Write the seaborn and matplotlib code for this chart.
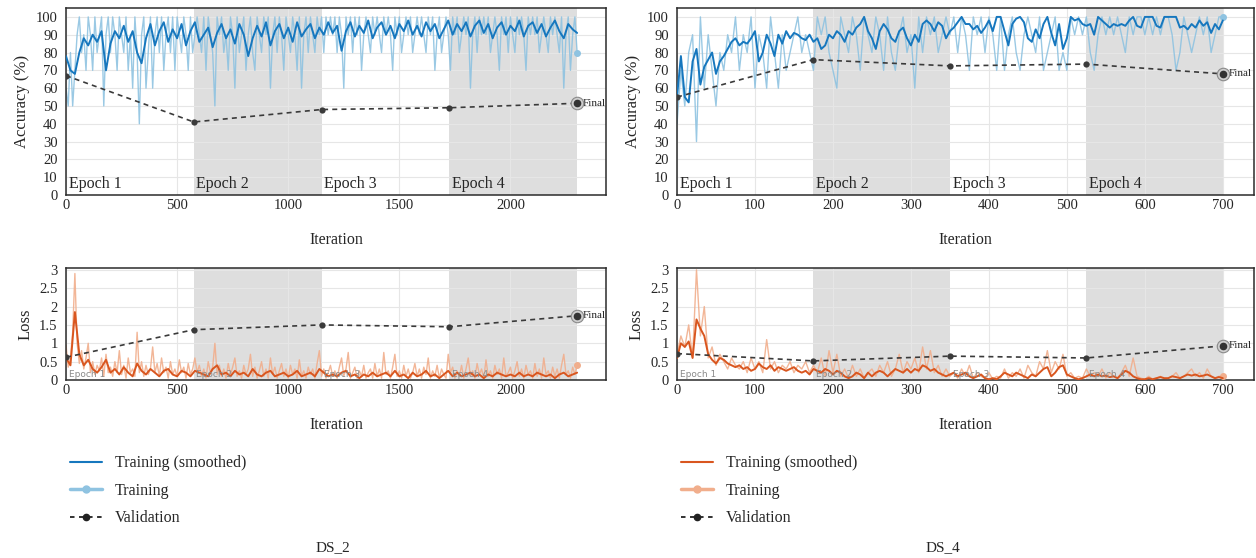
import numpy as np
import pandas as pd
import seaborn as sns
import matplotlib.pyplot as plt
from matplotlib.lines import Line2D
from matplotlib.ticker import FuncFormatter

# ---------------- data ----------------
# DS_2 : 2300 iterations, 4 epochs
ds2_iters = 2300
ds2_acc_raw = [  # every 10 iterations
    60, 50, 80, 50, 70, 90, 100, 80, 90, 70,
    100, 90, 70, 100, 80, 90, 100, 50, 90, 100,
    80, 100, 90, 70, 100, 90, 80, 100, 70, 90,
    60, 100, 80, 40, 90, 100, 60, 80, 100, 60,
    90, 100, 80, 100, 70, 90, 100, 80, 100, 70,
    100, 90, 80, 100, 90, 70, 100, 80, 90, 100,
    90, 80, 100, 70, 100, 90, 80, 50, 100, 90,
    100, 80, 90, 70, 100, 90, 60, 100, 80, 90,
    100, 70, 90, 100, 80, 70, 100, 90, 80, 100,
    90, 100, 60, 90, 100, 80, 100, 90, 70, 100,
    90, 80, 100, 90, 70, 100, 60, 90, 100, 80,
    100, 90, 80, 100, 90, 100, 80, 100, 90, 100,
    90, 100, 80, 100, 90, 60, 100, 90, 100, 80,
    100, 90, 100, 70, 90, 100, 90, 80, 100, 90,
    100, 90, 80, 100, 90, 100, 90, 70, 100, 90,
    100, 80, 90, 100, 90, 100, 80, 90, 100, 90,
    100, 90, 80, 100, 90, 100, 70, 90, 100, 80,
    90, 100, 90, 70, 100, 90, 100, 80, 90, 100,
    90, 100, 60, 90, 100, 80, 100, 90, 100, 90,
    100, 80, 90, 100, 90, 70, 100, 90, 100, 80,
    100, 90, 80, 100, 90, 100, 90, 70, 100, 90,
    100, 90, 100, 80, 90, 100, 90, 80, 100, 90,
    100, 90, 80, 100, 60, 90, 100, 70, 90, 100,
    80,
]
ds2_acc_smooth = [  # every 20 iterations
    78, 70, 68, 80, 88, 84, 90, 86, 92, 70,
    85, 92, 88, 95, 86, 92, 80, 74, 88, 96,
    84, 92, 97, 86, 93, 88, 96, 84, 92, 97,
    86, 90, 94, 83, 91, 96, 88, 93, 85, 96,
    90, 78, 88, 95, 89, 97, 84, 92, 96, 88,
    94, 86, 97, 89, 93, 96, 88, 94, 90, 97,
    91, 95, 81, 92, 97, 89, 95, 91, 98, 88,
    94, 97, 90, 95, 88, 96, 92, 98, 90, 95,
    89, 97, 92, 96, 88, 93, 98, 90, 96, 92,
    97, 89, 95, 98, 91, 96, 88, 94, 97, 90,
    95, 92, 98, 89, 95, 97, 91, 96, 89, 94,
    98, 92, 88, 96, 93, 91,
]
ds2_loss_raw = [  # every 10 iterations
    0.95, 0.35, 0.6, 1.3, 2.9, 1.0, 0.45, 0.8, 0.3, 0.6,
    1.0, 0.2, 0.5, 0.15, 0.4, 0.25, 0.6, 0.1, 0.7, 0.2,
    0.35, 0.1, 0.5, 0.2, 0.8, 0.15, 0.4, 0.05, 0.6, 0.2,
    0.3, 0.1, 1.3, 0.2, 0.5, 0.1, 0.4, 0.15, 0.3, 0.9,
    0.2, 0.45, 0.1, 0.6, 0.2, 0.35, 0.05, 0.5, 0.15, 0.3,
    0.1, 0.55, 0.2, 0.35, 0.05, 0.45, 0.15, 0.3, 0.6, 0.2,
    0.4, 0.1, 0.3, 0.05, 0.5, 0.2, 0.35, 1.0, 0.15, 0.4,
    0.1, 0.3, 0.05, 0.45, 0.15, 0.35, 0.6, 0.1, 0.25, 0.05,
    0.4, 0.15, 0.3, 0.7, 0.1, 0.35, 0.05, 0.25, 0.5, 0.1,
    0.3, 0.05, 0.6, 0.15, 0.35, 0.05, 0.25, 0.45, 0.1, 0.3,
    0.05, 0.4, 0.15, 0.3, 0.05, 0.55, 0.1, 0.25, 0.05, 0.35,
    0.15, 0.3, 0.05, 0.45, 0.8, 0.1, 0.3, 0.05, 0.2, 0.4,
    0.1, 0.25, 0.05, 0.35, 0.6, 0.1, 0.3, 0.75, 0.05, 0.2,
    0.35, 0.05, 0.25, 0.1, 0.4, 0.05, 0.2, 0.3, 0.05, 0.45,
    0.1, 0.3, 0.05, 0.75, 0.15, 0.25, 0.05, 0.35, 0.7, 0.1,
    0.25, 0.05, 0.4, 0.1, 0.3, 0.05, 0.2, 0.45, 0.1, 0.3,
    0.05, 0.35, 0.15, 0.6, 0.05, 0.25, 0.1, 0.4, 0.05, 0.3,
    0.15, 0.05, 0.7, 0.2, 0.35, 0.05, 0.25, 0.1, 0.4, 0.05,
    0.3, 0.6, 0.1, 0.25, 0.05, 0.45, 0.15, 0.3, 0.05, 0.55,
    0.1, 0.25, 0.05, 0.4, 0.15, 0.3, 0.05, 0.6, 0.1, 0.2,
    0.35, 0.05, 0.25, 0.5, 0.1, 0.3, 0.05, 0.4, 0.15, 0.25,
    0.05, 0.45, 0.1, 0.3, 0.05, 0.6, 0.15, 0.25, 0.05, 0.35,
    0.1, 0.3, 0.05, 0.4, 0.7, 0.15, 0.25, 0.05, 0.35, 0.15,
    0.4,
]
ds2_loss_smooth = [  # every 20 iterations
    0.6, 0.4, 1.85, 0.7, 0.4, 0.55, 0.3, 0.2, 0.35, 0.55,
    0.2, 0.3, 0.15, 0.35, 0.2, 0.1, 0.45, 0.25, 0.15, 0.3,
    0.2, 0.1, 0.25, 0.3, 0.15, 0.1, 0.25, 0.2, 0.1, 0.25,
    0.2, 0.15, 0.1, 0.3, 0.4, 0.15, 0.2, 0.1, 0.25, 0.15,
    0.2, 0.1, 0.3, 0.15, 0.1, 0.2, 0.25, 0.1, 0.15, 0.2,
    0.1, 0.15, 0.25, 0.1, 0.15, 0.2, 0.1, 0.3, 0.2, 0.1,
    0.15, 0.1, 0.2, 0.25, 0.1, 0.15, 0.05, 0.15, 0.1, 0.2,
    0.1, 0.15, 0.2, 0.1, 0.25, 0.1, 0.15, 0.05, 0.2, 0.1,
    0.15, 0.25, 0.1, 0.15, 0.05, 0.15, 0.25, 0.1, 0.2, 0.1,
    0.15, 0.2, 0.1, 0.15, 0.05, 0.15, 0.1, 0.2, 0.15, 0.1,
    0.15, 0.1, 0.2, 0.1, 0.15, 0.1, 0.2, 0.15, 0.1, 0.15,
    0.05, 0.15, 0.2, 0.1, 0.15, 0.2,
]
ds2_val_iter = [0, 575, 1150, 1725, 2300]
ds2_val_acc = [67, 41, 48, 49, 51.5]
ds2_val_loss = [0.62, 1.37, 1.5, 1.45, 1.75]

# DS_4 : 700 iterations, 4 epochs
ds4_iters = 700
ds4_acc_raw = [  # every 5 iterations
    40, 70, 50, 80, 90, 30, 100, 60, 90, 70,
    50, 80, 70, 90, 80, 100, 70, 90, 80, 100,
    60, 90, 80, 60, 100, 80, 60, 90, 70, 80,
    90, 100, 80, 90, 80, 70, 100, 90, 100, 80,
    70, 60, 100, 90, 80, 100, 90, 70, 100, 90,
    80, 100, 90, 70, 100, 80, 70, 90, 100, 80,
    90, 60, 100, 80, 100, 90, 100, 80, 90, 100,
    90, 100, 80, 100, 90, 70, 100, 90, 100, 80,
    100, 90, 70, 100, 70, 90, 100, 80, 70, 90,
    100, 90, 80, 100, 70, 80, 90, 100, 70, 80,
    70, 100, 90, 100, 90, 100, 80, 70, 90, 100,
    90, 100, 90, 100, 90, 80, 100, 90, 100, 100,
    90, 100, 90, 100, 90, 100, 100, 90, 70, 80,
    100, 90, 80, 90, 100, 90, 100, 80, 90, 100,
    100,
]
ds4_acc_smooth = [  # every 5 iterations
    55, 78, 55, 52, 75, 82, 62, 72, 76, 80,
    68, 75, 78, 82, 86, 88, 84, 86, 85, 88,
    92, 75, 80, 90, 85, 78, 90, 85, 92, 88,
    91, 90, 88, 87, 90, 86, 88, 82, 84, 90,
    88, 92, 90, 86, 92, 90, 94, 96, 100, 92,
    88, 82, 92, 96, 93, 88, 86, 92, 94, 88,
    84, 90, 86, 96, 98, 96, 92, 97, 95, 88,
    92, 94, 97, 100, 96, 96, 93, 95, 91, 94,
    98, 92, 100, 100, 92, 84, 96, 99, 100, 97,
    88, 86, 93, 88, 96, 100, 91, 84, 96, 82,
    88, 100, 98, 99, 96, 95, 96, 90, 100, 98,
    96, 94, 96, 95, 96, 95, 98, 100, 95, 94,
    100, 100, 100, 95, 94, 100, 100, 100, 100, 94,
    95, 93, 96, 94, 98, 95, 97, 91, 96, 93,
    98,
]
ds4_loss_raw = [  # every 5 iterations
    0.7, 1.2, 0.9, 1.5, 0.6, 3.0, 1.2, 2.0, 0.6, 0.9,
    0.4, 0.7, 0.5, 0.3, 0.6, 0.4, 0.3, 0.5, 0.2, 0.6,
    0.3, 0.5, 0.2, 1.1, 0.3, 0.5, 0.2, 0.4, 0.3, 0.5,
    0.2, 0.4, 0.3, 0.5, 0.2, 0.4, 0.2, 0.6, 0.1, 0.8,
    0.2, 0.7, 0.1, 0.3, 0.05, 0.4, 0.1, 0.3, 0.05, 0.2,
    0.3, 0.1, 0.4, 0.2, 0.5, 0.1, 0.3, 0.7, 0.2, 0.5,
    0.3, 0.6, 0.2, 0.9, 0.3, 0.8, 0.2, 0.4, 0.1, 0.3,
    0.1, 0.2, 0.05, 0.3, 0.1, 0.4, 0.05, 0.2, 0.1, 0.05,
    0.2, 0.02, 0.1, 0.05, 0.3, 0.05, 0.2, 0.1, 0.3, 0.05,
    0.4, 0.2, 0.1, 0.5, 0.3, 0.8, 0.2, 0.5, 0.3, 0.7,
    0.1, 0.2, 0.05, 0.1, 0.05, 0.3, 0.1, 0.2, 0.1, 0.3,
    0.05, 0.2, 0.1, 0.05, 0.2, 0.4, 0.1, 0.6, 0.1, 0.05,
    0.02, 0.1, 0.02, 0.05, 0.1, 0.02, 0.05, 0.1, 0.2, 0.05,
    0.1, 0.2, 0.3, 0.1, 0.2, 0.05, 0.3, 0.1, 0.05, 0.1,
    0.1,
]
ds4_loss_smooth = [  # every 5 iterations
    0.6, 1.0, 0.9, 1.05, 0.6, 1.65, 1.4, 1.2, 0.7, 0.55,
    0.45, 0.6, 0.55, 0.45, 0.4, 0.35, 0.4, 0.3, 0.35, 0.25,
    0.3, 0.45, 0.35, 0.3, 0.4, 0.25, 0.35, 0.3, 0.25, 0.3,
    0.35, 0.25, 0.2, 0.25, 0.15, 0.3, 0.25, 0.2, 0.3, 0.25,
    0.15, 0.25, 0.2, 0.1, 0.05, 0.1, 0.2, 0.15, 0.05, 0.2,
    0.1, 0.2, 0.25, 0.2, 0.1, 0.2, 0.3, 0.25, 0.2, 0.3,
    0.2, 0.3, 0.25, 0.4, 0.35, 0.25, 0.3, 0.2, 0.15, 0.1,
    0.15, 0.2, 0.1, 0.15, 0.2, 0.1, 0.05, 0.1, 0.15, 0.05,
    0.02, 0.05, 0.02, 0.1, 0.2, 0.15, 0.1, 0.2, 0.15, 0.1,
    0.05, 0.15, 0.1, 0.2, 0.3, 0.35, 0.1, 0.2, 0.35, 0.4,
    0.15, 0.1, 0.05, 0.02, 0.05, 0.1, 0.15, 0.1, 0.15, 0.1,
    0.12, 0.08, 0.1, 0.05, 0.15, 0.25, 0.2, 0.1, 0.05, 0.02,
    0.02, 0.05, 0.02, 0.05, 0.08, 0.05, 0.05, 0.1, 0.08, 0.05,
    0.1, 0.15, 0.12, 0.15, 0.1, 0.12, 0.15, 0.1, 0.05, 0.08,
    0.05,
]
ds4_val_iter = [0, 175, 350, 525, 700]
ds4_val_acc = [55, 76, 72.5, 73.5, 68]
ds4_val_loss = [0.72, 0.52, 0.65, 0.6, 0.93]

epoch_names = ["Epoch 1", "Epoch 2", "Epoch 3", "Epoch 4"]

# ---------------- style ----------------
sns.set_style("white")
plt.rcParams["font.family"] = ["Liberation Serif", "DejaVu Serif"]

blue, blue_light = "#1677be", "#8fc3e1"
orange, orange_light = "#d9561f", "#f1ae8c"
shade = "#dedede"


def curve(values, n_iter):
    return pd.DataFrame({"it": np.linspace(0, n_iter, len(values)), "v": values})


def panel(ax, raw, smooth, val_it, val_y, n_iter, xmax, ymax, dark, light, kind):
    # shaded even epochs
    ax.axvspan(val_it[1], val_it[2], color=shade, lw=0, zorder=0)
    ax.axvspan(val_it[3], val_it[4], color=shade, lw=0, zorder=0)

    r = curve(raw, n_iter)
    s = curve(smooth, n_iter)
    sns.lineplot(data=r, x="it", y="v", ax=ax, color=light, lw=1.0, alpha=0.9,
                 estimator=None, zorder=2)
    ax.plot(r["it"].iloc[-1], r["v"].iloc[-1], "o", color=light, ms=4, zorder=3)
    sns.lineplot(data=s, x="it", y="v", ax=ax, color=dark, lw=1.4,
                 estimator=None, zorder=3)

    v = pd.DataFrame({"it": val_it, "v": val_y})
    sns.lineplot(data=v, x="it", y="v", ax=ax, color="#3a3a3a", lw=1.2,
                 linestyle=(0, (3, 2.5)), marker="o", markersize=4.5,
                 markeredgewidth=0, estimator=None, zorder=4)
    ax.plot(val_it[-1], val_y[-1], "o", ms=9, mfc="#cfcfcf", mec="#8a8a8a",
            mew=0.8, zorder=5)
    ax.plot(val_it[-1], val_y[-1], "o", ms=4.5, color="#333333", zorder=6)
    ax.annotate("Final", (val_it[-1], val_y[-1]), xytext=(4, 0),
                textcoords="offset points", va="center", fontsize=8)

    for k, name in enumerate(epoch_names):
        if kind == "acc":
            ax.text(val_it[k] + xmax * 0.005, 1.5, name, fontsize=11.5, va="bottom")
        else:
            ax.text(val_it[k] + xmax * 0.005, 0.02, name, fontsize=6.5,
                    va="bottom", color="#8a8a8a", family="DejaVu Sans", zorder=3.5)

    ax.set_xlim(0, xmax)
    ax.set_ylim(0, ymax)
    ax.set_xlabel("Iteration", fontsize=11.5, labelpad=14)
    ax.set_ylabel("Accuracy (%)" if kind == "acc" else "Loss", fontsize=12, labelpad=4)
    ax.grid(True, color="#e6e6e6", lw=0.8)
    ax.set_axisbelow(True)
    for sp in ax.spines.values():
        sp.set_color("#2b2b2b")
        sp.set_linewidth(1.1)
    ax.tick_params(axis="y", labelsize=10.5, length=0, pad=6)
    ax.tick_params(axis="x", labelsize=10.5, direction="in", length=4,
                   color="#aaaaaa", pad=3)


fig = plt.figure(figsize=(12.56, 5.58), dpi=100)
W, H = 1256, 558
boxes = {
    "ds2_acc": [66, 8, 540, 187], "ds4_acc": [677, 8, 577, 187],
    "ds2_loss": [66, 268, 540, 112], "ds4_loss": [677, 268, 577, 112],
}
ax = {k: fig.add_axes([b[0] / W, 1 - (b[1] + b[3]) / H, b[2] / W, b[3] / H])
      for k, b in boxes.items()}

panel(ax["ds2_acc"], ds2_acc_raw, ds2_acc_smooth, ds2_val_iter, ds2_val_acc,
      ds2_iters, 2430, 105, blue, blue_light, "acc")
panel(ax["ds4_acc"], ds4_acc_raw, ds4_acc_smooth, ds4_val_iter, ds4_val_acc,
      ds4_iters, 740, 105, blue, blue_light, "acc")
panel(ax["ds2_loss"], ds2_loss_raw, ds2_loss_smooth, ds2_val_iter, ds2_val_loss,
      ds2_iters, 2430, 3.05, orange, orange_light, "loss")
panel(ax["ds4_loss"], ds4_loss_raw, ds4_loss_smooth, ds4_val_iter, ds4_val_loss,
      ds4_iters, 740, 3.05, orange, orange_light, "loss")

for k in ("ds2_acc", "ds4_acc"):
    ax[k].set_yticks(range(0, 101, 10))
for k in ("ds2_loss", "ds4_loss"):
    ax[k].set_yticks(np.arange(0, 3.01, 0.5))
    ax[k].yaxis.set_major_formatter(FuncFormatter(lambda v, _: f"{v:g}"))
for k in ("ds2_acc", "ds2_loss"):
    ax[k].set_xticks(range(0, 2001, 500))
for k in ("ds4_acc", "ds4_loss"):
    ax[k].set_xticks(range(0, 701, 100))


def legend_handles(dark, light):
    return [
        Line2D([], [], color=dark, lw=1.5),
        Line2D([], [], color=light, lw=2.5, marker="o", ms=5),
        Line2D([], [], color="#222222", lw=1.3, linestyle=(0, (2.5, 2.5)),
               marker="o", ms=4.5),
    ]


labels = ["Training (smoothed)", "Training", "Validation"]
for x0, dark, light in ((56, blue, blue_light), (667, orange, orange_light)):
    fig.legend(legend_handles(dark, light), labels, loc="upper left",
               bbox_to_anchor=(x0 / W, 1 - 441 / H), frameon=False,
               fontsize=11.5, labelspacing=0.72, handlelength=2.0,
               handletextpad=0.8)

fig.text(333 / W, 1 - 548 / H, "DS_2", ha="center", va="center", fontsize=11)
fig.text(943 / W, 1 - 548 / H, "DS_4", ha="center", va="center", fontsize=11)

fig.savefig("out.png", dpi=100)
